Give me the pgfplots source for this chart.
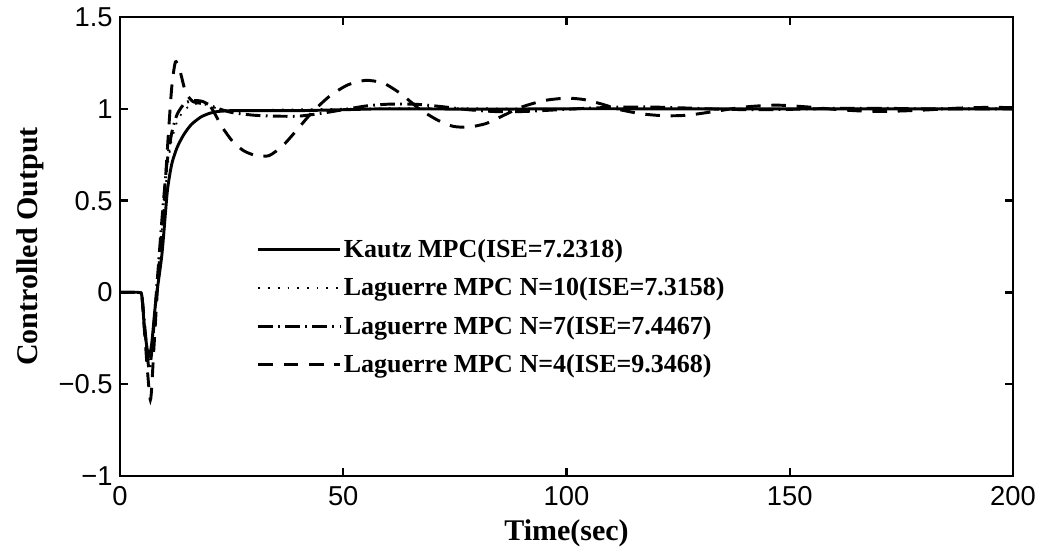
\documentclass[border=0pt]{standalone}
\usepackage{fontspec}
\setmainfont{Liberation Serif}
\setsansfont{Liberation Sans}
\usepackage{pgfplots}
\pgfplotsset{compat=1.18}

\pgfplotstableread{
t y
0 0
4.2 0
4.9 -0.02
5.5 -0.2
6.4 -0.35
7.1 -0.28
8.0 -0.05
9.4 0.21
10.6 0.55
11.6 0.70
12.8 0.79
14.3 0.86
16 0.915
18.1 0.955
20 0.975
21.8 0.985
25 0.99
30 0.99
40 0.99
50 0.995
60 1.0
80 0.998
100 1.0
120 1.0
150 1.0
200 1.0
}\kautz

\pgfplotstableread{
t y
0 0
4.2 0
4.9 -0.02
5.6 -0.2
6.5 -0.38
7.2 -0.3
8.2 0.0
9.4 0.35
10.5 0.65
11.5 0.82
12.8 0.93
14.3 0.99
16 1.02
18 1.03
20 1.015
23 0.995
27 0.99
35 0.995
50 1.0
70 1.004
100 1.0
150 1.0
200 1.0
}\lagten

\pgfplotstableread{
t y
0 0
4.2 0
4.9 -0.02
5.6 -0.2
6.5 -0.42
7.2 -0.3
8.3 0.05
9.4 0.4
10.5 0.7
11.6 0.87
12.8 0.97
14.5 1.03
16.5 1.045
18.5 1.04
21 1.01
25 0.98
30 0.965
35 0.96
40 0.96
45 0.975
50 0.995
55 1.015
60 1.025
66 1.025
72 1.012
78 0.995
84 0.985
90 0.985
96 0.992
102 1.0
110 1.008
118 1.01
126 1.005
134 0.998
142 0.995
150 0.997
160 1.002
170 1.003
180 1.0
200 1.0
}\lagseven

\pgfplotstableread{
t y
0 0
4.2 0
4.9 -0.02
5.6 -0.25
6.8 -0.586
7.6 -0.3
8.6 0.1
9.8 0.47
10.8 0.85
11.6 1.12
12.4 1.255
13.3 1.22
14.7 1.09
16.3 1.04
18 1.03
20.3 1.01
22.9 0.90
25.3 0.82
27.8 0.77
30.5 0.745
33.4 0.745
36.5 0.8
39.8 0.89
43 0.98
47 1.07
51 1.13
55 1.155
59 1.14
63 1.08
67 1.0
71 0.94
74.5 0.905
78 0.9
82 0.92
86 0.965
90 1.01
95 1.045
100 1.058
104 1.05
108 1.025
112 0.995
117 0.972
122 0.962
127 0.965
133 0.985
140 1.01
147 1.02
154 1.01
160 0.997
166 0.988
172 0.986
180 0.993
188 1.004
195 1.008
200 1.006
}\lagfour

\begin{document}
\begin{tikzpicture}
\path[use as bounding box] (-90pt,-57.75pt) rectangle (692.25pt,357pt);
\begin{axis}[
  at={(0pt,0pt)}, anchor=south west,
  scale only axis, width=669.75pt, height=344.25pt,
  xmin=0, xmax=200, ymin=-1, ymax=1.5,
  xtick={0,50,100,150,200},
  xticklabels={0,50,100,150,200},
  ytick={-1,-0.5,0,0.5,1,1.5},
  yticklabels={−1,−0.5,0,0.5,1,1.5},
  tick align=inside,
  major tick length=6pt,
  axis line style={line width=1.8pt},
  every tick/.style={line width=1.8pt, black},
  ticklabel style={font=\sffamily\fontsize{20.5}{24}\selectfont},
  xticklabel style={yshift=-4pt},
  yticklabel style={xshift=-2pt},
  xlabel={Time(sec)},
  ylabel={Controlled Output},
  label style={font=\bfseries\fontsize{22.5}{26}\selectfont},
  xlabel style={at={(axis description cs:0.5,-0.124)}, anchor=center},
  ylabel style={at={(axis description cs:-0.1008,0.5)}, anchor=center, rotate=0},
  legend style={draw=none, fill=none, at={(axis description cs:0.153,0.522)}, anchor=north west,
    font=\bfseries\fontsize{19.5}{23}\selectfont, row sep=9.8pt, inner sep=0pt},
  legend cell align=left,
  legend image code/.code={\draw[#1] (0pt,0pt) -- (55pt,0pt); \path (0pt,0pt) -- (61pt,0pt);},
  every axis plot/.append style={black, smooth, tension=0.4},
]
\addplot[line width=2.2pt] table {\kautz};
\addlegendentry{Kautz MPC(ISE=7.2318)}
\addplot[line width=1.3pt, dash pattern=on 1.3pt off 6pt] table {\lagten};
\addlegendentry{Laguerre MPC N=10(ISE=7.3158)}
\addplot[line width=2.2pt, dash pattern=on 11pt off 4pt on 1.3pt off 4pt] table {\lagseven};
\addlegendentry{Laguerre MPC N=7(ISE=7.4467)}
\addplot[line width=2.2pt, dash pattern=on 11pt off 8pt] table {\lagfour};
\addlegendentry{Laguerre MPC N=4(ISE=9.3468)}
\end{axis}
\end{tikzpicture}
\end{document}
